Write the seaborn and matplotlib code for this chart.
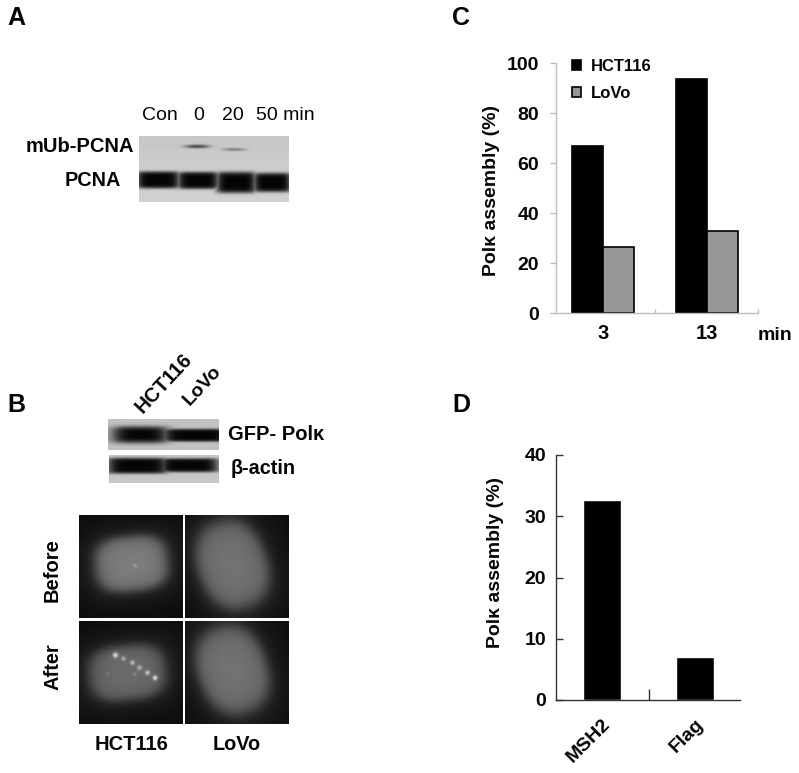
import numpy as np
import pandas as pd
import matplotlib
matplotlib.use("Agg")
import matplotlib.pyplot as plt
import seaborn as sns

W, H = 799, 773
sns.set_theme(style="white")
plt.rcParams['font.family'] = ['Liberation Sans', 'DejaVu Sans']
plt.rcParams['font.weight'] = 'bold'
plt.rcParams['text.color'] = '#050505'
plt.rcParams['xtick.labelcolor'] = '#050505'
plt.rcParams['ytick.labelcolor'] = '#050505'

# ---- data ----
time_labels = ["3", "13"]
cell_lines = ["HCT116", "LoVo"]
hct_values = [67, 93.5]
lovo_values = [26.5, 33]
pull_labels = ["MSH2", "Flag"]
pull_values = [32.6, 7.1]
ylabel_text = "Polκ assembly (%)"
blot_a_lanes = ["Con", "0", "20", "50 min"]

fig = plt.figure(figsize=(W / 100, H / 100), dpi=100, facecolor="white")


def px_axes(x0, y0, x1, y1):
    return fig.add_axes([x0 / W, 1 - y1 / H, (x1 - x0) / W, (y1 - y0) / H])


def label(x, y, s, size=13.5, weight="bold", rotation=0, ha="center", va="center"):
    fig.text(x / W, 1 - y / H, s, fontsize=size, fontweight=weight, rotation=rotation,
             ha=ha, va=va, rotation_mode="anchor" if rotation else "default")


# ---- panel C ----
axc = px_axes(555.7, 63, 758, 313)
df_c = pd.DataFrame({"time": time_labels * 2,
                     "line": [cell_lines[0]] * 2 + [cell_lines[1]] * 2,
                     "value": hct_values + lovo_values})
sns.barplot(data=df_c, x="time", y="value", hue="line", ax=axc, width=0.59, gap=0,
            palette=["#000000", "#969696"], edgecolor="#000000", linewidth=1.2, saturation=1)
axc.set_xlim(-0.455, 1.49)
axc.set_ylim(0, 100)
axc.set_yticks([0, 20, 40, 60, 80, 100])
axc.set_xlabel("")
axc.set_ylabel("")
for s in ["top", "right"]:
    axc.spines[s].set_visible(False)
for s in ["left", "bottom"]:
    axc.spines[s].set_color("#bdbdbd")
    axc.spines[s].set_linewidth(1)
axc.tick_params(axis="y", left=True, length=4, width=1, color="#bdbdbd", labelsize=14, pad=8)
axc.tick_params(axis="x", bottom=False, labelsize=14.5, pad=2)
axc.set_xticks([0.5, 1.49], minor=True)
axc.tick_params(axis="x", which="minor", bottom=True, direction="in", length=3, color="#bdbdbd")
handles, labels_ = axc.get_legend_handles_labels()
axc.legend(handles, labels_, loc="upper left", bbox_to_anchor=(0.08, 1.017), frameon=False,
           fontsize=12, handlelength=0.55, handleheight=0.6, handletextpad=0.6,
           labelspacing=0.72, borderpad=0, borderaxespad=0)
label(491, 190, ylabel_text, size=14, rotation=90)
label(775, 335, "min", size=14)

# ---- panel D ----
axd = px_axes(555.7, 455, 740, 700)
df_d = pd.DataFrame({"target": pull_labels, "value": pull_values})
sns.barplot(data=df_d, x="target", y="value", ax=axd, width=0.4, color="#000000", saturation=1)
axd.set_xlim(-0.498, 1.484)
axd.set_ylim(0, 40)
axd.set_yticks([0, 10, 20, 30, 40])
axd.set_xlabel("")
axd.set_ylabel("")
for s in ["top", "right"]:
    axd.spines[s].set_visible(False)
for s in ["left", "bottom"]:
    axd.spines[s].set_color("#333333")
    axd.spines[s].set_linewidth(1)
axd.tick_params(axis="y", left=True, direction="in", length=5, width=1, color="#333333",
                labelsize=14, pad=7)
axd.tick_params(axis="x", bottom=False, labelsize=14, pad=5)
for t in axd.get_xticklabels():
    t.set_rotation(45)
    t.set_ha("right")
    t.set_rotation_mode("anchor")
axd.set_xticks([0.5], minor=True)
axd.tick_params(axis="x", which="minor", bottom=True, direction="in", length=8, width=1, color="#333333")
label(495, 563, ylabel_text, size=14, rotation=90)


# ---- synthetic blot / microscopy images ----
def grid(x0, y0, x1, y1):
    return np.meshgrid(np.arange(x0, x1, 0.5), np.arange(y0, y1, 0.5))


def band(X, Y, cx, cy, rx, ry, p=4.0):
    return np.exp(-(np.abs((X - cx) / rx) ** p + np.abs((Y - cy) / ry) ** p))


def show_img(img, x0, y0, x1, y1):
    ax = px_axes(x0, y0, x1, y1)
    ax.imshow(np.clip(img, 0, 1), cmap="gray", vmin=0, vmax=1, aspect="auto", interpolation="bilinear")
    ax.axis("off")
    return ax


# blot A
bx0, by0, bx1, by1 = 139, 136, 289, 202
X, Y = grid(bx0, by0, bx1, by1)
pcna_lanes = [(158, 180, 22, 8.5), (198, 180.5, 21, 8.5), (236, 182.5, 20, 10.5), (272, 182.5, 19, 9.5)]
mub_bands = [(197, 147, 12, 1.8, 0.62), (234, 150, 11, 1.5, 0.35), (158, 147, 10, 1.5, 0.03)]
img = 0.78 + 0.04 * (Y - by0) / (by1 - by0)
dark = np.zeros_like(X)
for cx, cy, rx, ry in pcna_lanes:
    dark = np.maximum(dark, 0.98 * band(X, Y, cx, cy, rx, ry, 6.0))
for cx, cy, rx, ry, a in mub_bands:
    dark = np.maximum(dark, a * band(X, Y, cx, cy, rx, ry, 2.5))
show_img(img * (1 - dark), bx0, by0, bx1, by1)

# blots B
bx0, by0, bx1, by1 = 108, 419, 218, 450
X, Y = grid(bx0, by0, bx1, by1)
dark = np.maximum(0.97 * band(X, Y, 140, 434.5, 29, 8.5, 4.0), 0.97 * band(X, Y, 195, 435, 34, 6.5, 6.0))
show_img(0.76 * (1 - dark), bx0, by0, bx1, by1)

bx0, by0, bx1, by1 = 108.5, 455, 218.5, 483
X, Y = grid(bx0, by0, bx1, by1)
dark = np.maximum(0.97 * band(X, Y, 137, 465.5, 31, 8, 6.0), 0.97 * band(X, Y, 188, 465, 30, 7, 6.0))
show_img(0.78 * (1 - dark), bx0, by0, bx1, by1)


def nucleus(cx, cy, rx, ry, tilt, amp, spots=(), p=2.3):
    X, Y = np.meshgrid(np.arange(0, 103.5, 0.5), np.arange(0, 103, 0.5))
    t = np.deg2rad(tilt)
    u = (X - cx) * np.cos(t) + (Y - cy) * np.sin(t)
    v = -(X - cx) * np.sin(t) + (Y - cy) * np.cos(t)
    r = (np.abs(u / rx) ** p + np.abs(v / ry) ** p) ** (1 / p)
    body = 1 / (1 + np.exp((r - 1) / 0.1))
    halo = np.exp(-(r / 1.4) ** 2)
    grain = np.sin(X * 2.7 + Y * 3.9) * np.sin(X * 4.3 - Y * 1.9) + np.sin(X * 7.1 - Y * 5.3)
    img = 0.04 + 0.13 * halo + amp * body * (1 + 0.07 * grain)
    for sx, sy, sr, sa in spots:
        img = img + sa * np.exp(-(((X - sx) ** 2 + (Y - sy) ** 2) / sr ** 2))
    return img


# microscopy
spots_before = [(55.5, 51, 1.8, 0.15)]
spots_after = [(36, 34.5, 2.6, 0.5), (44, 38, 2.2, 0.3), (53, 42, 2.2, 0.35),
               (60, 47, 2.4, 0.3), (68, 52, 2.3, 0.4), (75.5, 57, 2.3, 0.55),
               (55, 53, 1.8, 0.12), (28, 53, 1.6, 0.08)]
panels = [
    (78.7, 514.7, 182.3, 617.7, nucleus(52, 49, 36, 27, -6, 0.32, spots_before, p=2.8)),
    (185.3, 514.7, 289, 617.7, nucleus(47, 50, 34, 44, -20, 0.28)),
    (78.7, 620.7, 182.3, 724, nucleus(48, 52, 38, 27, -6, 0.25, spots_after, p=2.8)),
    (185.3, 620.7, 289, 724, nucleus(47, 49, 34, 44, -20, 0.28)),
]
for x0, y0, x1, y1, im in panels:
    show_img(im, x0, y0, x1, y1)

# ---- text ----
for x, y, s in [(16, 18, "A"), (16, 405, "B"), (461, 18, "C"), (461, 405, "D")]:
    label(x, y, s, size=18)

label(159.5, 115, blot_a_lanes[0], size=14, weight="normal")
label(199, 115, blot_a_lanes[1], size=14, weight="normal")
label(233, 115, blot_a_lanes[2], size=14, weight="normal")
label(285.5, 115, blot_a_lanes[3], size=14, weight="normal")
label(79.5, 146, "mUb-PCNA", size=14.5)
label(92.5, 181, "PCNA", size=14.3)
label(139, 410, "HCT116", size=14.5, rotation=47, ha="left")
label(186, 403, "LoVo", size=14, rotation=47, ha="left")
label(276.5, 435, "GFP- Polκ", size=14.5)
label(263, 469, "β-actin", size=14.3)
label(52, 570, "Before", size=14.5, rotation=90)
label(53, 667, "After", size=14.4, rotation=90)
label(132, 745, "HCT116", size=14.5)
label(237, 745, "LoVo", size=14.3)

fig.savefig("out.png", dpi=100, facecolor="white")
